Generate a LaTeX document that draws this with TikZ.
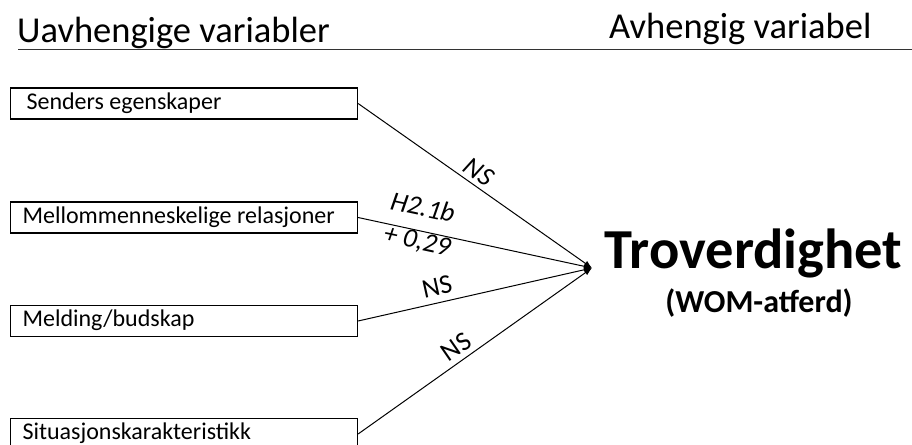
\documentclass[tikz,border=0pt]{standalone}
\usepackage{fontspec}
\setmainfont{Carlito}
\usetikzlibrary{arrows.meta}
\tikzset{
  varbox/.style={draw, line width=1.1pt, minimum height=31pt, minimum width=347pt,
    inner xsep=12pt, inner ysep=0pt, anchor=west,
    font=\fontsize{24}{26}\selectfont, text height=16pt, text depth=5pt},
  conn/.style={line width=1pt, -{Latex[length=8pt,width=6pt]}},
  lbl/.style={font=\fontsize{27}{30}\selectfont, inner sep=0pt},
  ilbl/.style={font=\fontsize{27}{30}\selectfont\itshape, inner sep=0pt},
  head/.style={font=\fontsize{36.5}{40}\selectfont, inner sep=0pt, anchor=base west}
}
\newcommand{\boxtext}[1]{\makebox[323pt][l]{#1}}
\begin{document}
\begin{tikzpicture}[x=1pt,y=-1pt]
\useasboundingbox (0,0) rectangle (912,444);
\clip (0,0) rectangle (912,444);
\fill[white] (0,0) rectangle (912,444);
% headers
\node[head] (h1) at (17,43) {Uavhengige variabler};
\node[head] (h2) at (609,38) {Avhengig variabel};
\coordinate (ul) at (18,49.5);
\coordinate (ur) at (912,49.5);
\draw[line width=1.4pt, black!80] (ul) -- (ur);
% boxes
\node[varbox] (b1) at (10,103.5) {\boxtext{\hspace*{4pt}Senders egenskaper}};
\node[varbox] (b2) at (10,217.5) {\boxtext{Mellommenneskelige relasjoner}};
\node[varbox] (b3) at (10,321) {\boxtext{Melding/budskap}};
\node[varbox] (b4) at (10,434) {\boxtext{Situasjonskarakteristikk}};
% target
\coordinate (t) at (592,268);
\draw[conn] (b1.east) -- (t);
\draw[conn] (b2.east) -- (t);
\draw[conn] (b3.east) -- (t);
\draw[conn] (b4.east) -- (t);
% labels
\node[ilbl, rotate=-35.2] (l1) at (479,172) {NS};
\node[ilbl, rotate=-12] (l2a) at (423,207) {H2.1b};
\node[ilbl, rotate=-12] (l2b) at (417,242) {+ 0,29};
\node[lbl, rotate=12.5] (l3) at (437,287) {NS};
\node[lbl, rotate=34.6] (l4) at (456,347) {NS};
% dependent
\node[font=\bfseries\fontsize{56.5}{60}\selectfont, inner sep=0pt, anchor=base] (dv) at (753.5,268) {Troverdighet};
\node[font=\bfseries\fontsize{32}{34}\selectfont, inner sep=0pt, anchor=base] (dv2) at (759,312) {(WOM-atferd)};
\end{tikzpicture}
\end{document}
